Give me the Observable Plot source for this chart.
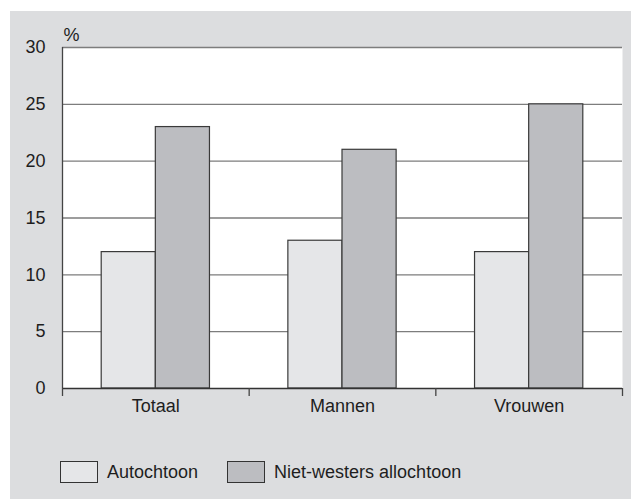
<!DOCTYPE html>
<html>
<head>
<meta charset="utf-8">
<script src="https://cdn.jsdelivr.net/npm/d3@7"></script>
<script src="https://cdn.jsdelivr.net/npm/@observablehq/plot@0.6"></script>
<style>
  html, body { margin: 0; padding: 0; background: #ffffff; }
  #wrap { position: relative; width: 631px; height: 499px; overflow: hidden; font-family: "Liberation Sans", Arial, sans-serif; }
  #panel { position: absolute; left: 10px; top: 11px; right: 0; bottom: 0; background: #dcdddf; }
  #chart { position: absolute; left: 0; top: 0; }
  #chart svg text { font-size: 18px; fill: #1e1e1e; }
  #legend { position: absolute; left: 60px; top: 461px; display: flex; align-items: center; font-size: 18px; color: #1e1e1e; }
  .sw { width: 36px; height: 20px; border: 1px solid #333; display: inline-block; margin-right: 9px; }
  .item { display: flex; align-items: center; margin-right: 29px; }
</style>
</head>
<body>
<div id="wrap">
  <div id="panel"></div>
  <div id="chart"></div>
  <div id="legend"></div>
</div>
<script>
const groups = ["Totaal", "Mannen", "Vrouwen"];
const series = ["Autochtoon", "Niet-westers allochtoon"];
const autochtoon = [12, 13, 12];
const nietWesters = [23, 21, 25];
const yTicks = [0, 5, 10, 15, 20, 25, 30];
const colors = ["#e5e6e8", "#bcbdc1"];

const values = [autochtoon, nietWesters];
const data = [];
series.forEach((s, j) => groups.forEach((g, i) => data.push({group: g, gi: i, series: s, sj: j, value: values[j][i]})));

const barW = 0.29;
const chart = Plot.plot({
  width: 631,
  height: 430,
  marginLeft: 62,
  marginRight: 9,
  marginTop: 47,
  marginBottom: 42,
  style: {background: "transparent", fontFamily: "'Liberation Sans', Arial, sans-serif", fontSize: "18px", color: "#1e1e1e"},
  x: {type: "linear", domain: [0, groups.length]},
  y: {domain: [0, 30], label: null},
  color: {domain: series, range: colors},
  marks: [
    Plot.frame({fill: "white", stroke: null}),
    Plot.gridY(yTicks.filter(t => t > 0), {stroke: "#7d7d7d", strokeOpacity: 1, strokeWidth: 1.3}),
    Plot.rectY(data, {
      x1: d => d.gi + 0.5 - barW + d.sj * barW,
      x2: d => d.gi + 0.5 + d.sj * barW,
      y: "value",
      fill: "series",
      stroke: "#3a3a3a",
      strokeWidth: 1.2
    }),
    Plot.ruleX([0], {stroke: "#444", strokeWidth: 1.3}),
    Plot.ruleY([0], {stroke: "#333", strokeWidth: 1.6}),
    Plot.axisY({ticks: yTicks, tickSize: 0, tickPadding: 17, label: null}),
    Plot.axisX({ticks: d3.range(groups.length + 1), tickSize: 8, tickFormat: () => "", label: null, stroke: "#444", strokeWidth: 1.3}),
    Plot.axisX({ticks: groups.map((g, i) => i + 0.5), tickSize: 0, tickPadding: 11, tickFormat: t => groups[Math.floor(t)], label: null}),
    Plot.text(["%"], {frameAnchor: "top-left", dx: 1, dy: -7, lineAnchor: "bottom", textAnchor: "start"})
  ]
});
document.getElementById("chart").appendChild(chart);

const legend = document.getElementById("legend");
series.forEach((s, j) => {
  const item = document.createElement("span");
  item.className = "item";
  const sw = document.createElement("span");
  sw.className = "sw";
  sw.style.background = colors[j];
  item.appendChild(sw);
  item.appendChild(document.createTextNode(s));
  legend.appendChild(item);
});
</script>
</body>
</html>
